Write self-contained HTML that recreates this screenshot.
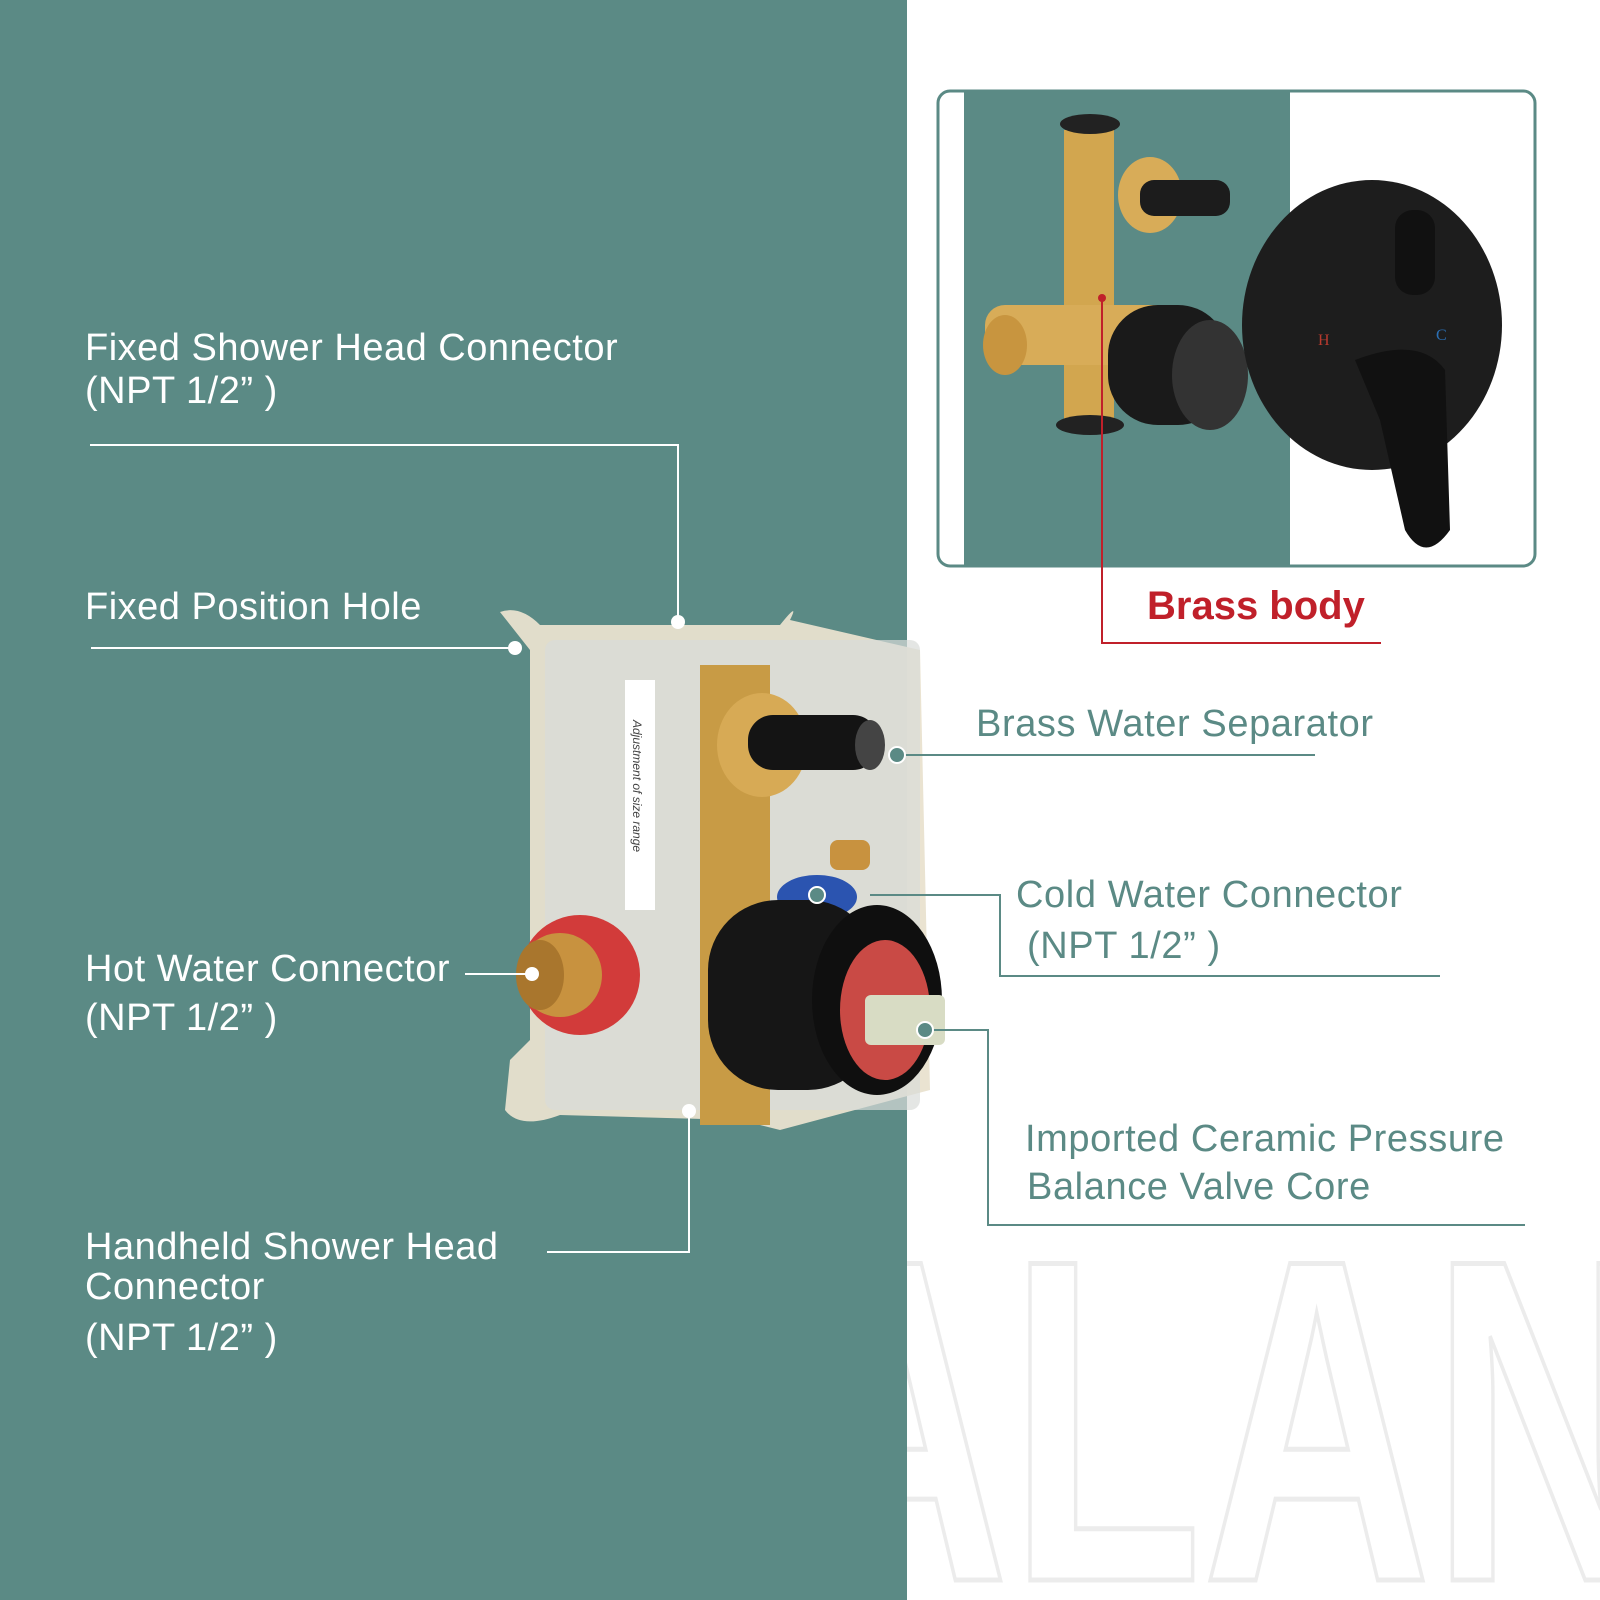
<!DOCTYPE html>
<html><head><meta charset="utf-8"><style>
html,body{margin:0;padding:0;width:1600px;height:1600px;overflow:hidden}
body{position:relative;background:#fff;font-family:"Liberation Sans","DejaVu Sans",sans-serif}
.t{position:absolute;color:#fff;font-size:38px;line-height:42px;white-space:nowrap;letter-spacing:0.5px}
.g{position:absolute;color:#5b8a85;font-size:38px;line-height:42px;white-space:nowrap;letter-spacing:0.6px}
</style></head><body>
<svg width="1600" height="1600" style="position:absolute;left:0;top:0;display:block">
  <text x="780" y="1580" font-family="Liberation Sans Narrow, Liberation Sans, sans-serif" font-weight="bold" font-size="460" textLength="880" lengthAdjust="spacingAndGlyphs" fill="none" stroke="#ececec" stroke-width="5">ALAN</text>
  <rect x="0" y="0" width="907" height="1600" fill="#5b8a85"/>
  <rect x="964" y="92" width="326" height="473" fill="#5b8a85"/>
  <rect x="938" y="91" width="597" height="475" rx="12" fill="none" stroke="#5b8a85" stroke-width="3"/>
  <rect x="1064" y="130" width="50" height="290" fill="#d2a64f"/>
  <rect x="985" y="305" width="210" height="60" rx="20" fill="#d8ac58"/>
  <ellipse cx="1005" cy="345" rx="22" ry="30" fill="#c8953f"/>
  <ellipse cx="1090" cy="124" rx="30" ry="10" fill="#222"/>
  <ellipse cx="1090" cy="425" rx="34" ry="10" fill="#222"/>
  <ellipse cx="1150" cy="195" rx="32" ry="38" fill="#d8ac58"/>
  <rect x="1140" y="180" width="90" height="36" rx="14" fill="#1c1c1c"/>
  <rect x="1108" y="305" width="120" height="120" rx="50" fill="#1a1a1a"/>
  <ellipse cx="1210" cy="375" rx="38" ry="55" fill="#333"/>
  <ellipse cx="1372" cy="325" rx="130" ry="145" fill="#1d1d1d"/>
  <rect x="1395" y="210" width="40" height="85" rx="18" fill="#111"/>
  <path d="M1355 360 Q1420 335 1445 370 L1450 530 Q1425 565 1405 530 L1380 420 Z" fill="#111"/>
  <text x="1318" y="345" fill="#b83a2e" font-size="16" font-family="Liberation Serif">H</text>
  <text x="1436" y="340" fill="#2b6fb3" font-size="16" font-family="Liberation Serif">C</text>
  <circle cx="1102" cy="298" r="4" fill="#c0202a"/>
  <polyline points="1102,298 1102,643 1381,643" fill="none" stroke="#c0202a" stroke-width="2"/>
  <path d="M500 612 Q520 605 540 625 L780 625 Q800 600 790 620 L920 650 L930 1090 L780 1130 Q760 1125 740 1120 L560 1115 Q520 1130 505 1110 L510 1060 L530 1040 L530 650 Z" fill="#e9e2cf" opacity="0.95"/>
  <rect x="545" y="640" width="375" height="470" rx="10" fill="#d9dcd8" opacity="0.7"/>
  <rect x="625" y="680" width="30" height="230" fill="#fff"/>
  <text transform="translate(633,720) rotate(90)" font-size="12" fill="#444" font-style="italic">Adjustment of size range</text>
  <rect x="700" y="665" width="70" height="460" fill="#c89b45"/>
  <ellipse cx="762" cy="745" rx="45" ry="52" fill="#d7aa55"/>
  <rect x="748" y="715" width="130" height="55" rx="25" fill="#141414"/>
  <ellipse cx="870" cy="745" rx="15" ry="25" fill="#444"/>
  <circle cx="580" cy="975" r="60" fill="#d23b3a"/>
  <circle cx="560" cy="975" r="42" fill="#c8923f"/>
  <ellipse cx="540" cy="975" rx="24" ry="35" fill="#a9762d"/>
  <ellipse cx="817" cy="897" rx="40" ry="22" fill="#2b54b0"/>
  <rect x="708" y="900" width="170" height="190" rx="70" fill="#161616"/>
  <ellipse cx="877" cy="1000" rx="65" ry="95" fill="#0f0f0f"/>
  <ellipse cx="885" cy="1010" rx="45" ry="70" fill="#c94a45"/>
  <rect x="865" y="995" width="80" height="50" rx="6" fill="#d8dcc4"/>
  <rect x="830" y="840" width="40" height="30" rx="8" fill="#c8923f"/>
  <g stroke="#fff" stroke-width="2" fill="none">
    <polyline points="90,445 678,445 678,622"/>
    <polyline points="91,648 515,648"/>
    <polyline points="465,974 532,974"/>
    <polyline points="547,1252 689,1252 689,1111"/>
  </g>
  <g fill="#fff"><circle cx="678" cy="622" r="7"/><circle cx="515" cy="648" r="7"/><circle cx="532" cy="974" r="7"/><circle cx="689" cy="1111" r="7"/></g>
  <g stroke="#5b8a85" stroke-width="2" fill="none">
    <polyline points="897,755 1315,755"/>
    <polyline points="870,895 1000,895 1000,976 1440,976"/>
    <polyline points="925,1030 988,1030 988,1225 1525,1225"/>
  </g>
  <g fill="#5b8a85" stroke="#fff" stroke-width="2"><circle cx="897" cy="755" r="8"/><circle cx="817" cy="895" r="8"/><circle cx="925" cy="1030" r="8"/></g>
</svg>
<div class="t" style="left:85px;top:327px">Fixed Shower Head Connector</div>
<div class="t" style="left:85px;top:370px">(NPT 1/2” )</div>
<div class="t" style="left:85px;top:586px">Fixed Position Hole</div>
<div class="t" style="left:85px;top:948px">Hot Water Connector</div>
<div class="t" style="left:85px;top:997px">(NPT 1/2” )</div>
<div class="t" style="left:85px;top:1226px">Handheld Shower Head</div>
<div class="t" style="left:85px;top:1266px">Connector</div>
<div class="t" style="left:85px;top:1317px">(NPT 1/2” )</div>
<div class="g" style="left:976px;top:703px">Brass Water Separator</div>
<div class="g" style="left:1016px;top:874px">Cold Water Connector</div>
<div class="g" style="left:1027px;top:925px">(NPT 1/2” )</div>
<div class="g" style="left:1025px;top:1118px">Imported Ceramic Pressure</div>
<div class="g" style="left:1027px;top:1166px">Balance Valve Core</div>
<div style="position:absolute;left:1147px;top:584px;color:#c0202a;font-size:40px;font-weight:bold;line-height:44px">Brass body</div>
</body></html>
